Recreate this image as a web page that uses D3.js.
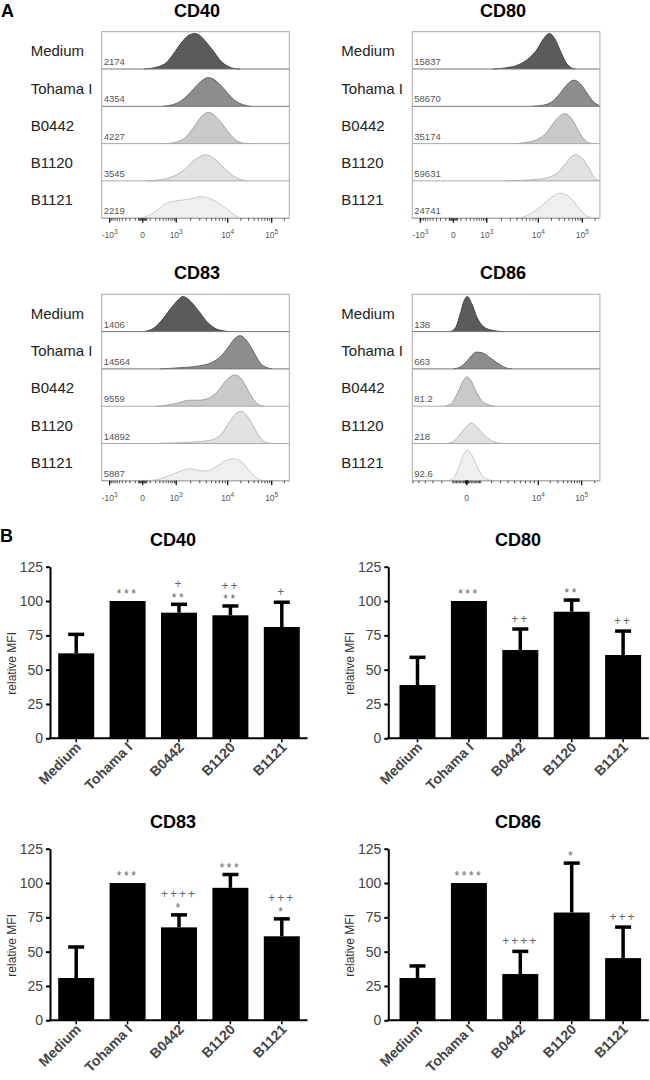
<!DOCTYPE html>
<html>
<head>
<meta charset="utf-8">
<script src="https://cdn.jsdelivr.net/npm/d3@7/dist/d3.min.js"></script>
<style>
  body { margin: 0; background: #fff; }
  svg { display: block; font-family: Arial, "Liberation Sans", sans-serif; }
</style>
</head>
<body>
<div class="canvas"></div>
<script>
// ---------- data ----------
const samples = ["Medium", "Tohama I", "B0442", "B1120", "B1121"];

// A: MFI written in the corner of every histogram row
const mfiCD40 = [2174, 4354, 4227, 3545, 2219];
const mfiCD80 = [15837, 58670, 35174, 59631, 24741];
const mfiCD83 = [1406, 14564, 9559, 14892, 5887];
const mfiCD86 = [138, 663, 81.2, 218, 92.6];

// A: histogram outlines, [fluorescence, height as share of the row]
const histCD40 = [
  [[10,0],[223,0.05],[521,0.18],[830,0.4],[1278,0.7],[1720,0.88],[2390,0.95],[3118,0.88],[4190,0.68],[5640,0.45],[7600,0.2],[10300,0.07],[14700,0.01],[19200,0]],
  [[400,0],[1022,0.08],[1598,0.25],[2320,0.48],[3118,0.66],[4375,0.77],[6080,0.68],[8180,0.5],[11300,0.28],[16100,0.12],[22900,0.04],[32600,0]],
  [[521,0],[1022,0.04],[1598,0.18],[2320,0.45],[3118,0.7],[4375,0.84],[6080,0.72],[8180,0.5],[11300,0.25],[16100,0.08],[22900,0.01],[29800,0]],
  [[48,0],[305,0.03],[830,0.12],[1480,0.3],[2320,0.55],[3118,0.66],[3900,0.7],[5220,0.63],[7600,0.42],[11300,0.2],[17500,0.06],[27400,0]],
  [[-30,0],[48,0.05],[223,0.2],[458,0.38],[830,0.45],[1598,0.5],[2500,0.55],[2890,0.58],[4190,0.55],[6080,0.45],[9500,0.25],[14700,0.08],[19200,0]]
];
const histCD80 = [
  [[1340,0],[2420,0.03],[4400,0.12],[6870,0.3],[9230,0.5],[13000,0.8],[17900,0.95],[24200,0.8],[31600,0.5],[41300,0.2],[53700,0.05],[70000,0]],
  [[7960,0],[13000,0.03],[22200,0.15],[31600,0.35],[45000,0.58],[64000,0.7],[91000,0.6],[130000,0.35],[185000,0.12],[240000,0.03],[262000,0.02]],
  [[3800,0],[5930,0.03],[9230,0.1],[15600,0.3],[22200,0.55],[31600,0.75],[41300,0.8],[58700,0.65],[76600,0.4],[100000,0.18],[130000,0.04],[170000,0]],
  [[2420,0],[5930,0.02],[15600,0.08],[26500,0.2],[41300,0.45],[53700,0.62],[70000,0.7],[100000,0.6],[142000,0.35],[185000,0.12],[240000,0.02],[262000,0.01]],
  [[3800,0],[5930,0.06],[9230,0.22],[15600,0.45],[22200,0.6],[30500,0.67],[45000,0.62],[64000,0.45],[91000,0.22],[130000,0.06],[170000,0]]
];
const histCD83 = [
  [[10,0],[150,0.08],[400,0.35],[740,0.65],[1100,0.85],[1370,0.94],[1850,0.85],[2680,0.6],[3900,0.3],[5640,0.1],[8180,0.02],[11300,0]],
  [[305,0],[1185,0.03],[2890,0.08],[5220,0.18],[7600,0.35],[11300,0.65],[14700,0.82],[19200,0.89],[27400,0.75],[39000,0.45],[55500,0.15],[79200,0.03],[103000,0]],
  [[223,0],[660,0.04],[1185,0.1],[1850,0.16],[2890,0.16],[4520,0.22],[6540,0.4],[9500,0.7],[14700,0.84],[21000,0.72],[29800,0.4],[42700,0.12],[55500,0.02],[66000,0]],
  [[223,0],[1185,0.02],[2890,0.05],[5220,0.1],[7600,0.25],[11300,0.6],[16100,0.82],[19900,0.86],[27400,0.75],[39000,0.45],[55500,0.15],[79200,0.02],[103000,0]],
  [[48,0],[305,0.05],[830,0.18],[1370,0.28],[1850,0.32],[2680,0.29],[3900,0.26],[6080,0.38],[9500,0.55],[13500,0.59],[21000,0.5],[29800,0.3],[42700,0.1],[60700,0.01],[72000,0]]
];
const histCD86 = [
  [[-1224,0],[-813,0.08],[-441,0.45],[-171,0.82],[37,0.94],[324,0.75],[682,0.4],[1080,0.18],[1520,0.08],[2175,0.03],[3350,0]],
  [[-948,0],[-441,0.05],[0,0.2],[324,0.36],[682,0.45],[1215,0.42],[1836,0.3],[2553,0.17],[3350,0.06],[4035,0.01],[4545,0]],
  [[-1680,0],[-1080,0.08],[-564,0.4],[-216,0.68],[0,0.78],[256,0.7],[630,0.4],[1080,0.15],[1670,0.04],[2360,0]],
  [[-1520,0],[-948,0.05],[-441,0.25],[0,0.46],[256,0.55],[682,0.45],[1215,0.25],[1836,0.1],[2553,0.02],[3150,0]],
  [[-1520,0],[-948,0.06],[-490,0.4],[-171,0.72],[37,0.83],[324,0.7],[682,0.4],[1164,0.12],[1670,0.03],[2360,0]]
];

// A: labelled ticks of the fluorescence axis
const decadesStd = [-1000, 0, 1000, 10000, 100000];
const decadesCD86 = [0, 10000, 100000];

// B: relative MFI, SD and significance marks
const relCD40 = [61.9, 100, 91.5, 89.6, 81.1];
const sdCD40 = [13.8, 0, 6.1, 6.8, 18.0];
const starCD40 = ["", "***", "**", "**", ""];
const plusCD40 = ["", "", "+", "++", "+"];

const relCD80 = [38.8, 100, 64.3, 92.2, 60.7];
const sdCD80 = [20.2, 0, 15.3, 8.5, 17.4];
const starCD80 = ["", "***", "", "**", ""];
const plusCD80 = ["", "", "++", "", "++"];

const relCD83 = [30.8, 100, 67.7, 96.5, 61.2];
const sdCD83 = [22.6, 0, 9.1, 9.7, 12.7];
const starCD83 = ["", "***", "*", "***", "*"];
const plusCD83 = ["", "", "++++", "", "+++"];

const relCD86 = [30.8, 100, 33.7, 78.5, 45.3];
const sdCD86 = [8.8, 0, 16.5, 36.0, 22.6];
const starCD86 = ["", "****", "", "*", ""];
const plusCD86 = ["", "", "++++", "", "+++"];

const yTicks = [0, 25, 50, 75, 100, 125];

// ---------- drawing ----------
const svg = d3.select(".canvas").append("svg")
    .attr("width", 650)
    .attr("height", 1080);

const dims = {rowH: 37.3, boxW: 187.6, barSpan: 257, yH: 171.6};
const fills = ["#5b5b5b", "#8d8d8d", "#c9c9c9", "#e1e1e1", "#efefef"];
const edges = ["#3a3a3a", "#585858", "#9c9c9c", "#b2b2b2", "#c4c4c4"];

// panel letters
svg.append("text").attr("x", 1).attr("y", 16.5).attr("font-size", 18).attr("font-weight", "bold").text("A");
svg.append("text").attr("x", 0).attr("y", 541.5).attr("font-size", 18).attr("font-weight", "bold").text("B");

// biexponential-like display axis, built from symlog pieces
const fcsScale = (left, cd86) => {
    const s = cd86
        ? d3.scaleSymlog().constant(3000)
            .domain([-6150, 0, 1e4, 1e5, 262144])
            .range([0, 54.4, 126, 169.4, dims.boxW])
        : d3.scaleSymlog().constant(200)
            .domain([-1700, -1000, 0, 1e3, 1e4, 1e5, 262144])
            .range([0, 8, 41, 74.5, 126, 170, dims.boxW]);
    return s.range(s.range().map(v => v + left));
};

const drawHistPanel = (p) => {
    const g = svg.append("g");
    const x = fcsScale(p.left, p.cd86);
    const bottom = p.top + dims.rowH * samples.length;

    g.append("text")
        .attr("x", p.titleX).attr("y", p.top - 15)
        .attr("text-anchor", "middle")
        .attr("font-size", 18).attr("font-weight", "bold")
        .text(p.name);

    g.append("rect")
        .attr("x", p.left).attr("y", p.top)
        .attr("width", dims.boxW).attr("height", bottom - p.top)
        .attr("fill", "#fff");

    samples.forEach((s, i) => {
        const rTop = p.top + i * dims.rowH;
        const rBot = rTop + dims.rowH;
        const y = d3.scaleLinear().domain([0, 1]).range([rBot, rTop]);

        const area = d3.area()
            .x(d => x(d[0])).y0(rBot).y1(d => y(d[1]))
            .curve(d3.curveMonotoneX);
        const line = d3.line()
            .x(d => x(d[0])).y(d => y(d[1]))
            .curve(d3.curveMonotoneX);

        g.append("path").attr("d", area(p.hist[i])).attr("fill", fills[i]);
        g.append("path").attr("d", line(p.hist[i]))
            .attr("fill", "none").attr("stroke", edges[i]).attr("stroke-width", 0.9);

        // row baseline
        g.append("line")
            .attr("x1", p.left).attr("x2", p.left + dims.boxW)
            .attr("y1", rBot).attr("y2", rBot)
            .attr("stroke", i < 2 ? "#777" : "#aaa").attr("stroke-width", 1);

        g.append("text")
            .attr("x", p.left - 71).attr("y", rTop + 24.5)
            .attr("font-size", 15).attr("fill", "#222")
            .text(s);

        g.append("text")
            .attr("x", p.left + 2).attr("y", rBot - 4)
            .attr("font-size", 9.5).attr("fill", "#555")
            .text(p.mfi[i]);
    });

    g.append("rect")
        .attr("x", p.left).attr("y", p.top)
        .attr("width", dims.boxW).attr("height", bottom - p.top)
        .attr("fill", "none").attr("stroke", "#aaa").attr("stroke-width", 1);

    // minor ticks: k * decade on both sides of zero
    const dom = x.domain();
    const lo = dom[0], hi = dom[dom.length - 1];
    const minor = [];
    [10, 100, 1000, 10000, 100000].forEach(dec => {
        d3.range(1, 10).forEach(k => {
            if (dec === 10 && k > 5 && !p.cd86) return;
            [k * dec, -k * dec].forEach(v => { if (v > lo && v < hi) minor.push(v); });
        });
    });

    g.selectAll("line.minor").data(minor).join("line")
        .attr("class", "minor")
        .attr("x1", d => x(d)).attr("x2", d => x(d))
        .attr("y1", bottom).attr("y2", bottom + 2.5)
        .attr("stroke", "#222").attr("stroke-width", 0.8);

    g.selectAll("line.major").data(p.decades).join("line")
        .attr("class", "major")
        .attr("x1", d => x(d)).attr("x2", d => x(d))
        .attr("y1", bottom).attr("y2", bottom + 4.5)
        .attr("stroke", "#111").attr("stroke-width", 1.2);

    p.decades.forEach(v => {
        const tl = g.append("text")
            .attr("x", x(v)).attr("y", bottom + 20)
            .attr("text-anchor", "middle")
            .attr("font-size", 8.5).attr("fill", "#555");
        if (v === 0) {
            tl.text("0");
        } else {
            tl.append("tspan").text((v < 0 ? "-" : "") + "10");
            tl.append("tspan").attr("dy", -4).attr("font-size", 6.5)
                .text(Math.round(Math.log10(Math.abs(v))));
        }
    });
};

const drawBarPanel = (p) => {
    const g = svg.append("g");
    const x = d3.scaleBand()
        .domain(samples)
        .range([p.bandStart, p.bandStart + dims.barSpan])
        .paddingInner(0.3)
        .paddingOuter(0.15);
    const y = d3.scaleLinear().domain([0, 125]).range([p.y0, p.y0 - dims.yH]);

    g.append("text")
        .attr("x", p.titleX).attr("y", p.y0 - 192)
        .attr("text-anchor", "middle")
        .attr("font-size", 18).attr("font-weight", "bold")
        .text(p.name);

    // bars
    g.selectAll("rect").data(p.rel).join("rect")
        .attr("x", (d, i) => x(samples[i]))
        .attr("y", d => y(d))
        .attr("width", x.bandwidth())
        .attr("height", d => y(0) - y(d))
        .attr("fill", "#000");

    // upper error bars
    p.rel.forEach((m, i) => {
        if (!p.sd[i]) return;
        const cx = x(samples[i]) + x.bandwidth() / 2;
        g.append("line")
            .attr("x1", cx).attr("x2", cx)
            .attr("y1", y(m)).attr("y2", y(m + p.sd[i]))
            .attr("stroke", "#000").attr("stroke-width", 3.5);
        g.append("line")
            .attr("x1", cx - 8).attr("x2", cx + 8)
            .attr("y1", y(m + p.sd[i])).attr("y2", y(m + p.sd[i]))
            .attr("stroke", "#000").attr("stroke-width", 3.5);
    });

    // significance marks: stars just over the cap, plus signs above them
    p.rel.forEach((m, i) => {
        const cx = x(samples[i]) + x.bandwidth() / 2;
        const cap = y(m + p.sd[i]);
        if (p.star[i]) {
            g.append("text")
                .attr("x", cx).attr("y", cap - 2.7)
                .attr("text-anchor", "middle")
                .attr("font-size", 12).attr("letter-spacing", 2.5).attr("fill", "#666")
                .text(p.star[i]);
        }
        if (p.plus[i]) {
            g.append("text")
                .attr("x", cx).attr("y", p.star[i] ? cap - 16.4 : cap - 5.9)
                .attr("text-anchor", "middle")
                .attr("font-size", 12).attr("letter-spacing", 2).attr("fill", "#666")
                .text(p.plus[i]);
        }
    });

    // y axis
    g.append("g")
        .attr("transform", `translate(${p.ax},0)`)
        .call(d3.axisLeft(y).tickValues(yTicks).tickSize(4).tickSizeOuter(0).tickPadding(3))
        .call(a => a.attr("font-family", null).attr("font-size", null))
        .call(a => a.selectAll("path, line").attr("stroke", "#000").attr("stroke-width", 2))
        .call(a => a.selectAll("text").attr("font-size", 14).attr("fill", "#444"));

    // x axis
    const xa = g.append("g")
        .attr("transform", `translate(0,${p.y0})`)
        .call(d3.axisBottom(x).tickSize(4).tickSizeOuter(0))
        .call(a => a.attr("font-family", null).attr("font-size", null));
    xa.select(".domain").remove();
    xa.selectAll("line").attr("stroke", "#000").attr("stroke-width", 1.5);
    xa.selectAll("text")
        .attr("x", -3).attr("y", 11).attr("dy", 0)
        .attr("text-anchor", "end")
        .attr("transform", "rotate(-45)")
        .attr("font-size", 14).attr("font-weight", "bold").attr("fill", "#444");
    g.append("line")
        .attr("x1", p.ax - 1).attr("x2", p.bandStart + dims.barSpan)
        .attr("y1", p.y0).attr("y2", p.y0)
        .attr("stroke", "#000").attr("stroke-width", 2);

    g.append("text")
        .attr("transform", `translate(${p.ax - 34},${p.y0 - 75}) rotate(-90)`)
        .attr("text-anchor", "middle")
        .attr("font-size", 12).attr("fill", "#333")
        .text("relative MFI");
};

const panelsA = [
    {name: "CD40", hist: histCD40, mfi: mfiCD40, left: 101.7, top: 31.7, titleX: 197, cd86: false, decades: decadesStd},
    {name: "CD80", hist: histCD80, mfi: mfiCD80, left: 412.3, top: 31.7, titleX: 503, cd86: false, decades: decadesStd},
    {name: "CD83", hist: histCD83, mfi: mfiCD83, left: 101.7, top: 294.3, titleX: 197, cd86: false, decades: decadesStd},
    {name: "CD86", hist: histCD86, mfi: mfiCD86, left: 412.3, top: 294.3, titleX: 503, cd86: true, decades: decadesCD86}
];
panelsA.forEach(drawHistPanel);

const panelsB = [
    {name: "CD40", rel: relCD40, sd: sdCD40, star: starCD40, plus: plusCD40, ax: 50, bandStart: 50.5, y0: 738.3, titleX: 173},
    {name: "CD80", rel: relCD80, sd: sdCD80, star: starCD80, plus: plusCD80, ax: 388.3, bandStart: 391.8, y0: 738.3, titleX: 518},
    {name: "CD83", rel: relCD83, sd: sdCD83, star: starCD83, plus: plusCD83, ax: 50, bandStart: 50.5, y0: 1020.3, titleX: 173},
    {name: "CD86", rel: relCD86, sd: sdCD86, star: starCD86, plus: plusCD86, ax: 388.3, bandStart: 391.8, y0: 1020.3, titleX: 518}
];
panelsB.forEach(drawBarPanel);
</script>
</body>
</html>
